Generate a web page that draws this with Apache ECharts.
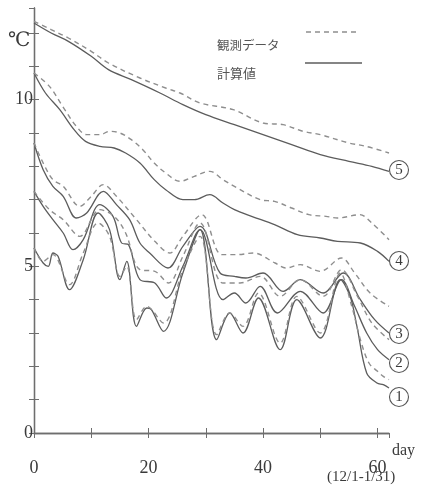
<!DOCTYPE html>
<html>
<head>
<meta charset="utf-8">
<script src="https://cdn.jsdelivr.net/npm/echarts@6/dist/echarts.min.js"></script>
<style>
html,body{margin:0;padding:0;background:#fff;}
#chart{width:423px;height:489px;}
</style>
</head>
<body>
<div id="chart"></div>
<script>
// ---- data (day, °C) ----
var calc5Days = [0, 3, 6, 10, 13, 17, 22, 26, 30, 35, 40, 45, 50, 55, 59, 62];
var calc5Vals = [12.3, 12.0, 11.75, 11.3, 10.9, 10.6, 10.2, 9.85, 9.55, 9.25, 8.95, 8.65, 8.35, 8.15, 8.0, 7.85];
var obs5Days = [0, 3, 6, 10, 13, 18.5, 23, 25.5, 29, 34.8, 40, 43.5, 47, 50, 55, 58, 62];
var obs5Vals = [12.35, 12.1, 11.85, 11.45, 11.1, 10.65, 10.35, 10.2, 9.9, 9.7, 9.3, 9.25, 9.05, 8.95, 8.7, 8.6, 8.4];

var calc4Days = [0, 2, 4.5, 7, 9, 11.5, 14, 16, 18.5, 21, 23, 26, 28, 30.7, 33, 35, 38, 42, 46, 50, 53, 57, 60, 62];
var calc4Vals = [10.8, 10.2, 9.7, 9.1, 8.75, 8.6, 8.55, 8.4, 8.1, 7.6, 7.3, 7.0, 7.0, 7.15, 6.9, 6.7, 6.5, 6.25, 5.95, 5.85, 5.75, 5.7, 5.45, 5.15];
var obs4Days = [0, 2.7, 5, 7.4, 9.2, 11.5, 13.2, 15, 17, 19, 21, 23, 25.5, 28, 30.7, 33, 35, 39.5, 42, 45, 48, 51, 53, 56.9, 59, 62];
var obs4Vals = [10.8, 10.4, 9.8, 9.2, 8.95, 8.95, 9.05, 9.0, 8.8, 8.5, 8.1, 7.8, 7.55, 7.7, 7.85, 7.6, 7.4, 7.0, 6.95, 6.75, 6.55, 6.5, 6.45, 6.55, 6.3, 5.8];

var calc3Days = [0, 1.6, 3.3, 5.1, 7.4, 9.2, 12.1, 14.4, 16.7, 18.5, 20.2, 23.4, 26, 29, 32.5, 35, 37, 40, 43.5, 46.5, 50.5, 54, 57, 59.5, 62];
var calc3Vals = [8.7, 7.9, 7.4, 7.1, 6.45, 6.6, 7.25, 6.85, 6.4, 5.7, 5.4, 4.95, 5.6, 6.2, 4.8, 4.7, 4.65, 4.8, 4.25, 4.6, 4.2, 4.8, 4.0, 3.4, 3.0];
var obs3Days = [0, 1.6, 3.3, 5.1, 8, 10, 12.1, 14.4, 17.9, 21.1, 23.7, 26, 29.3, 32.8, 35.4, 38.3, 42.1, 44, 46.5, 50, 53.7, 56, 58.7, 62];
var obs3Vals = [8.7, 8.1, 7.6, 7.4, 6.8, 7.1, 7.45, 7.1, 6.4, 5.75, 5.4, 5.9, 6.55, 5.35, 5.35, 5.4, 5.1, 4.95, 5.05, 4.85, 5.25, 4.8, 4.2, 3.8];

var calc2Days = [0, 1.6, 3.3, 5.1, 6.8, 8.6, 11.5, 13.8, 15.3, 16.5, 18.5, 21.1, 23.1, 26, 29, 33, 35, 37, 39.5, 42.5, 46.5, 50.5, 53.7, 56, 58.1, 60, 62];
var calc2Vals = [7.25, 6.8, 6.4, 6.0, 5.5, 5.8, 6.85, 6.5, 5.7, 5.65, 4.6, 4.5, 4.05, 5.0, 6.1, 4.0, 4.2, 3.9, 4.4, 3.6, 4.25, 3.6, 4.6, 3.8, 3.0, 2.5, 2.2];
var obs2Days = [0, 2.7, 5.1, 8, 11.5, 14, 16, 18.5, 21.1, 23.5, 26, 29, 33, 36, 39.5, 43, 46.5, 50.5, 53.7, 56.5, 59, 62];
var obs2Vals = [7.25, 6.7, 6.4, 5.9, 6.7, 6.5, 6.0, 4.9, 4.85, 4.5, 5.3, 6.3, 4.5, 4.5, 4.7, 4.1, 4.6, 4.1, 4.9, 4.1, 3.3, 2.8];

var calc1Days = [0, 1.6, 2.5, 3.3, 4.2, 6.2, 8.6, 11.2, 13.2, 15, 16.2, 17.9, 19.7, 20.5, 22.6, 26, 29, 31.9, 34.2, 36.5, 39.2, 43, 45.9, 50, 53.5, 55.2, 56.4, 58.1, 59.9, 61, 62];
var calc1Vals = [5.55, 5.1, 5.0, 5.4, 5.3, 4.3, 5.2, 6.6, 6.1, 4.6, 5.15, 3.2, 3.75, 3.7, 3.05, 4.8, 6.1, 2.8, 3.6, 3.0, 4.05, 2.5, 4.0, 2.85, 4.6, 4.1, 3.2, 1.8, 1.5, 1.45, 1.35];
var obs1Days = [0, 1.6, 3.3, 6.2, 8.6, 11.2, 13.2, 15, 16.2, 17.9, 19.7, 22.6, 26, 29, 31.9, 34.2, 36.5, 39.2, 43, 45.9, 50, 53.5, 55.5, 57, 58.5, 60, 61, 62];
var obs1Vals = [5.55, 5.15, 5.35, 4.45, 5.4, 6.3, 5.9, 4.7, 5.0, 3.4, 3.8, 3.3, 4.9, 5.9, 2.95, 3.6, 3.2, 4.2, 2.7, 4.1, 3.0, 4.8, 3.8, 2.8, 2.1, 1.85, 1.7, 1.6];

var xTickLabels = [0, 20, 40, 60];
var yTickLabels = [0, 5, 10];
var curveNames = ['①', '②', '③', '④', '⑤'];
var legendObs = '観測データ';
var legendCalc = '計算値';

function pairs(d, v) { return d.map(function (x, i) { return [x, v[i]]; }); }

var solidColor = '#5c5c5c';
var dashColor = '#8e8e8e';
var axisColor = '#6e6e6e';
var textColor = '#3a3a3a';
var serif = '"Liberation Serif","DejaVu Serif",serif';

function calcSeries(d, v) {
  return { type: 'line', data: pairs(d, v), smooth: 0.35, showSymbol: false, silent: true,
    lineStyle: { color: solidColor, width: 1.3 } };
}
function obsSeries(d, v) {
  return { type: 'line', data: pairs(d, v), smooth: 0.35, showSymbol: false, silent: true,
    lineStyle: { color: dashColor, width: 1.4, type: [5, 4] } };
}

var chart = echarts.init(document.getElementById('chart'), null, { renderer: 'canvas' });

var grid = { left: 34, right: 34, top: 8, bottom: 56 };
var xMin = 0, xMax = 62, yMin = 0, yMax = 12.75;

var option = {
  animation: false,
  backgroundColor: '#ffffff',
  grid: grid,
  xAxis: [{
    type: 'value', min: xMin, max: xMax, interval: 10, position: 'bottom',
    axisLine: { show: true, lineStyle: { color: axisColor, width: 1.3 } },
    axisTick: { show: true, inside: true, length: 5, lineStyle: { color: axisColor } },
    splitLine: { show: false },
    axisLabel: { show: true, margin: 26, color: textColor, fontFamily: serif, fontSize: 18,
      showMaxLabel: false,
      formatter: function (v) { return xTickLabels.indexOf(v) >= 0 ? String(v) : ''; } }
  }, {
    type: 'value', min: xMin, max: xMax, interval: 10, position: 'top',
    axisLine: { show: true, lineStyle: { color: axisColor, width: 1.3 } },
    axisTick: { show: true, inside: true, length: 5, lineStyle: { color: axisColor } },
    splitLine: { show: false }, axisLabel: { show: false }
  }],
  yAxis: [{
    type: 'value', min: yMin, max: yMax, interval: 1, position: 'left',
    axisLine: { show: true, lineStyle: { color: axisColor, width: 1.3 } },
    axisTick: { show: true, inside: true, length: 5, lineStyle: { color: axisColor } },
    splitLine: { show: false },
    axisLabel: { show: true, margin: 1, color: textColor, fontFamily: serif, fontSize: 18,
      padding: [0, 0, 8, 0], showMaxLabel: false,
      formatter: function (v) { return yTickLabels.indexOf(v) >= 0 ? String(v) : ''; } }
  }, {
    type: 'value', min: yMin, max: yMax, interval: 1, position: 'right',
    axisLine: { show: true, lineStyle: { color: axisColor, width: 1.3 } },
    axisTick: { show: true, inside: true, length: 5, lineStyle: { color: axisColor } },
    splitLine: { show: false }, axisLabel: { show: false }
  }],
  series: [
    calcSeries(calc5Days, calc5Vals), obsSeries(obs5Days, obs5Vals),
    calcSeries(calc4Days, calc4Vals), obsSeries(obs4Days, obs4Vals),
    calcSeries(calc3Days, calc3Vals), obsSeries(obs3Days, obs3Vals),
    calcSeries(calc2Days, calc2Vals), obsSeries(obs2Days, obs2Vals),
    calcSeries(calc1Days, calc1Vals), obsSeries(obs1Days, obs1Vals)
  ]
};
chart.setOption(option);

// decorations: unit, legend, curve markers, axis captions
var gfx = [];
gfx.push({ type: 'text', left: 8, top: 31, style: { text: '℃', fill: textColor, font: '20px ' + serif } });
gfx.push({ type: 'text', left: 217, top: 39, style: { text: legendObs, fill: '#555', font: '12.5px "Noto Sans CJK JP"' } });
gfx.push({ type: 'text', left: 217, top: 67, style: { text: legendCalc, fill: '#555', font: '13px "Noto Sans CJK JP"' } });
gfx.push({ type: 'line', shape: { x1: 306, y1: 32, x2: 359, y2: 32 }, style: { stroke: dashColor, lineWidth: 1.4, lineDash: [5, 4] } });
gfx.push({ type: 'line', shape: { x1: 305, y1: 63, x2: 362, y2: 63 }, style: { stroke: solidColor, lineWidth: 1.3 } });

var markerY = [397, 363, 334, 261, 170];
for (var i = 0; i < curveNames.length; i++) {
  var cy = markerY[i];
  gfx.push({ type: 'circle', shape: { cx: 399, cy: cy, r: 9.5 }, style: { fill: '#fff', stroke: '#555', lineWidth: 1.1 } });
  gfx.push({ type: 'text', x: 399, y: cy, style: { text: String(i + 1), fill: textColor, font: '15px ' + serif, align: 'center', verticalAlign: 'middle' } });
}
gfx.push({ type: 'text', left: 392, top: 443, style: { text: 'day', fill: textColor, font: '16px ' + serif } });
gfx.push({ type: 'text', left: 327, top: 470, style: { text: '(12/1-1/31)', fill: textColor, font: '15px ' + serif } });
chart.setOption({ graphic: gfx });
</script>
</body>
</html>
